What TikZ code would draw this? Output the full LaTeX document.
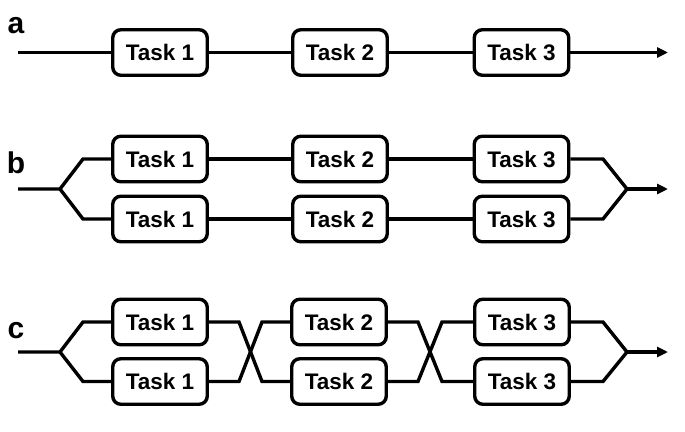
\documentclass[tikz,border=0pt]{standalone}
\usepackage{fontspec}
\setmainfont{Liberation Sans}
\usetikzlibrary{arrows.meta}
\begin{document}
\begin{tikzpicture}[x=1pt,y=-1pt,
  taskbox/.style={draw=black,line width=3.4pt,rounded corners=8pt,fill=white,
    minimum width=94.5pt,minimum height=45.5pt,inner sep=0pt,
    font=\fontsize{22.5}{26}\selectfont\bfseries},
  conn/.style={line width=3.4pt},
  arr/.style={conn,-{Triangle[length=11pt,width=10pt]}},
  lbl/.style={anchor=base,font=\fontsize{30}{34}\selectfont\bfseries,inner sep=0pt}]
\useasboundingbox (0,0) rectangle (685,431);
% labels
\node[lbl] (la) at (16,33) {a};
\node[lbl] (lb) at (16,173) {b};
\node[lbl] (lc) at (16,338) {c};
% row a
\node[taskbox] (a1) at (160,52.5) {Task 1};
\node[taskbox] (a2) at (340,52.5) {Task 2};
\node[taskbox] (a3) at (521.5,52.5) {Task 3};
\coordinate (as) at (18,52.5);
\coordinate (ae) at (668,52.5);
\draw[conn] (as) -- (a1);
\draw[conn] (a1) -- (a2);
\draw[conn] (a2) -- (a3);
\draw[arr] (a3) -- (ae);
% row b
\node[taskbox] (b1t) at (160,159) {Task 1};
\node[taskbox] (b2t) at (340,159) {Task 2};
\node[taskbox] (b3t) at (521.5,159) {Task 3};
\node[taskbox] (b1b) at (160,219) {Task 1};
\node[taskbox] (b2b) at (340,219) {Task 2};
\node[taskbox] (b3b) at (521.5,219) {Task 3};
\coordinate (bs) at (18,189);
\coordinate (bsp) at (60,189);
\coordinate (bj) at (627,189);
\coordinate (be) at (668,189);
\draw[conn] (bs) -- (bsp) -- (83,159) -- (b1t.west);
\draw[conn] (bsp) -- (83,219) -- (b1b.west);
\draw[conn] (b1t) -- (b2t);
\draw[conn] (b2t) -- (b3t);
\draw[conn] (b1b) -- (b2b);
\draw[conn] (b2b) -- (b3b);
\draw[conn] (b3t.east) -- (603,159) -- (bj);
\draw[conn] (b3b.east) -- (603,219) -- (bj);
\draw[arr] (bj) -- (be);
% row c
\node[taskbox] (c1t) at (160,322) {Task 1};
\node[taskbox] (c2t) at (339,322) {Task 2};
\node[taskbox] (c3t) at (522,322) {Task 3};
\node[taskbox] (c1b) at (160,381.5) {Task 1};
\node[taskbox] (c2b) at (339,381.5) {Task 2};
\node[taskbox] (c3b) at (522,381.5) {Task 3};
\coordinate (cs) at (18,352);
\coordinate (csp) at (60,352);
\coordinate (cj) at (627,352);
\coordinate (ce) at (668,352);
\draw[conn] (cs) -- (csp) -- (83,322) -- (c1t.west);
\draw[conn] (csp) -- (83,381.5) -- (c1b.west);
\draw[conn] (c1t.east) -- (239,322) -- (262,381.5) -- (c2b.west);
\draw[conn] (c1b.east) -- (239,381.5) -- (262,322) -- (c2t.west);
\draw[conn] (c2t.east) -- (418,322) -- (442,381.5) -- (c3b.west);
\draw[conn] (c2b.east) -- (418,381.5) -- (442,322) -- (c3t.west);
\draw[conn] (c3t.east) -- (603,322) -- (cj);
\draw[conn] (c3b.east) -- (603,381.5) -- (cj);
\draw[arr] (cj) -- (ce);
\end{tikzpicture}
\end{document}
